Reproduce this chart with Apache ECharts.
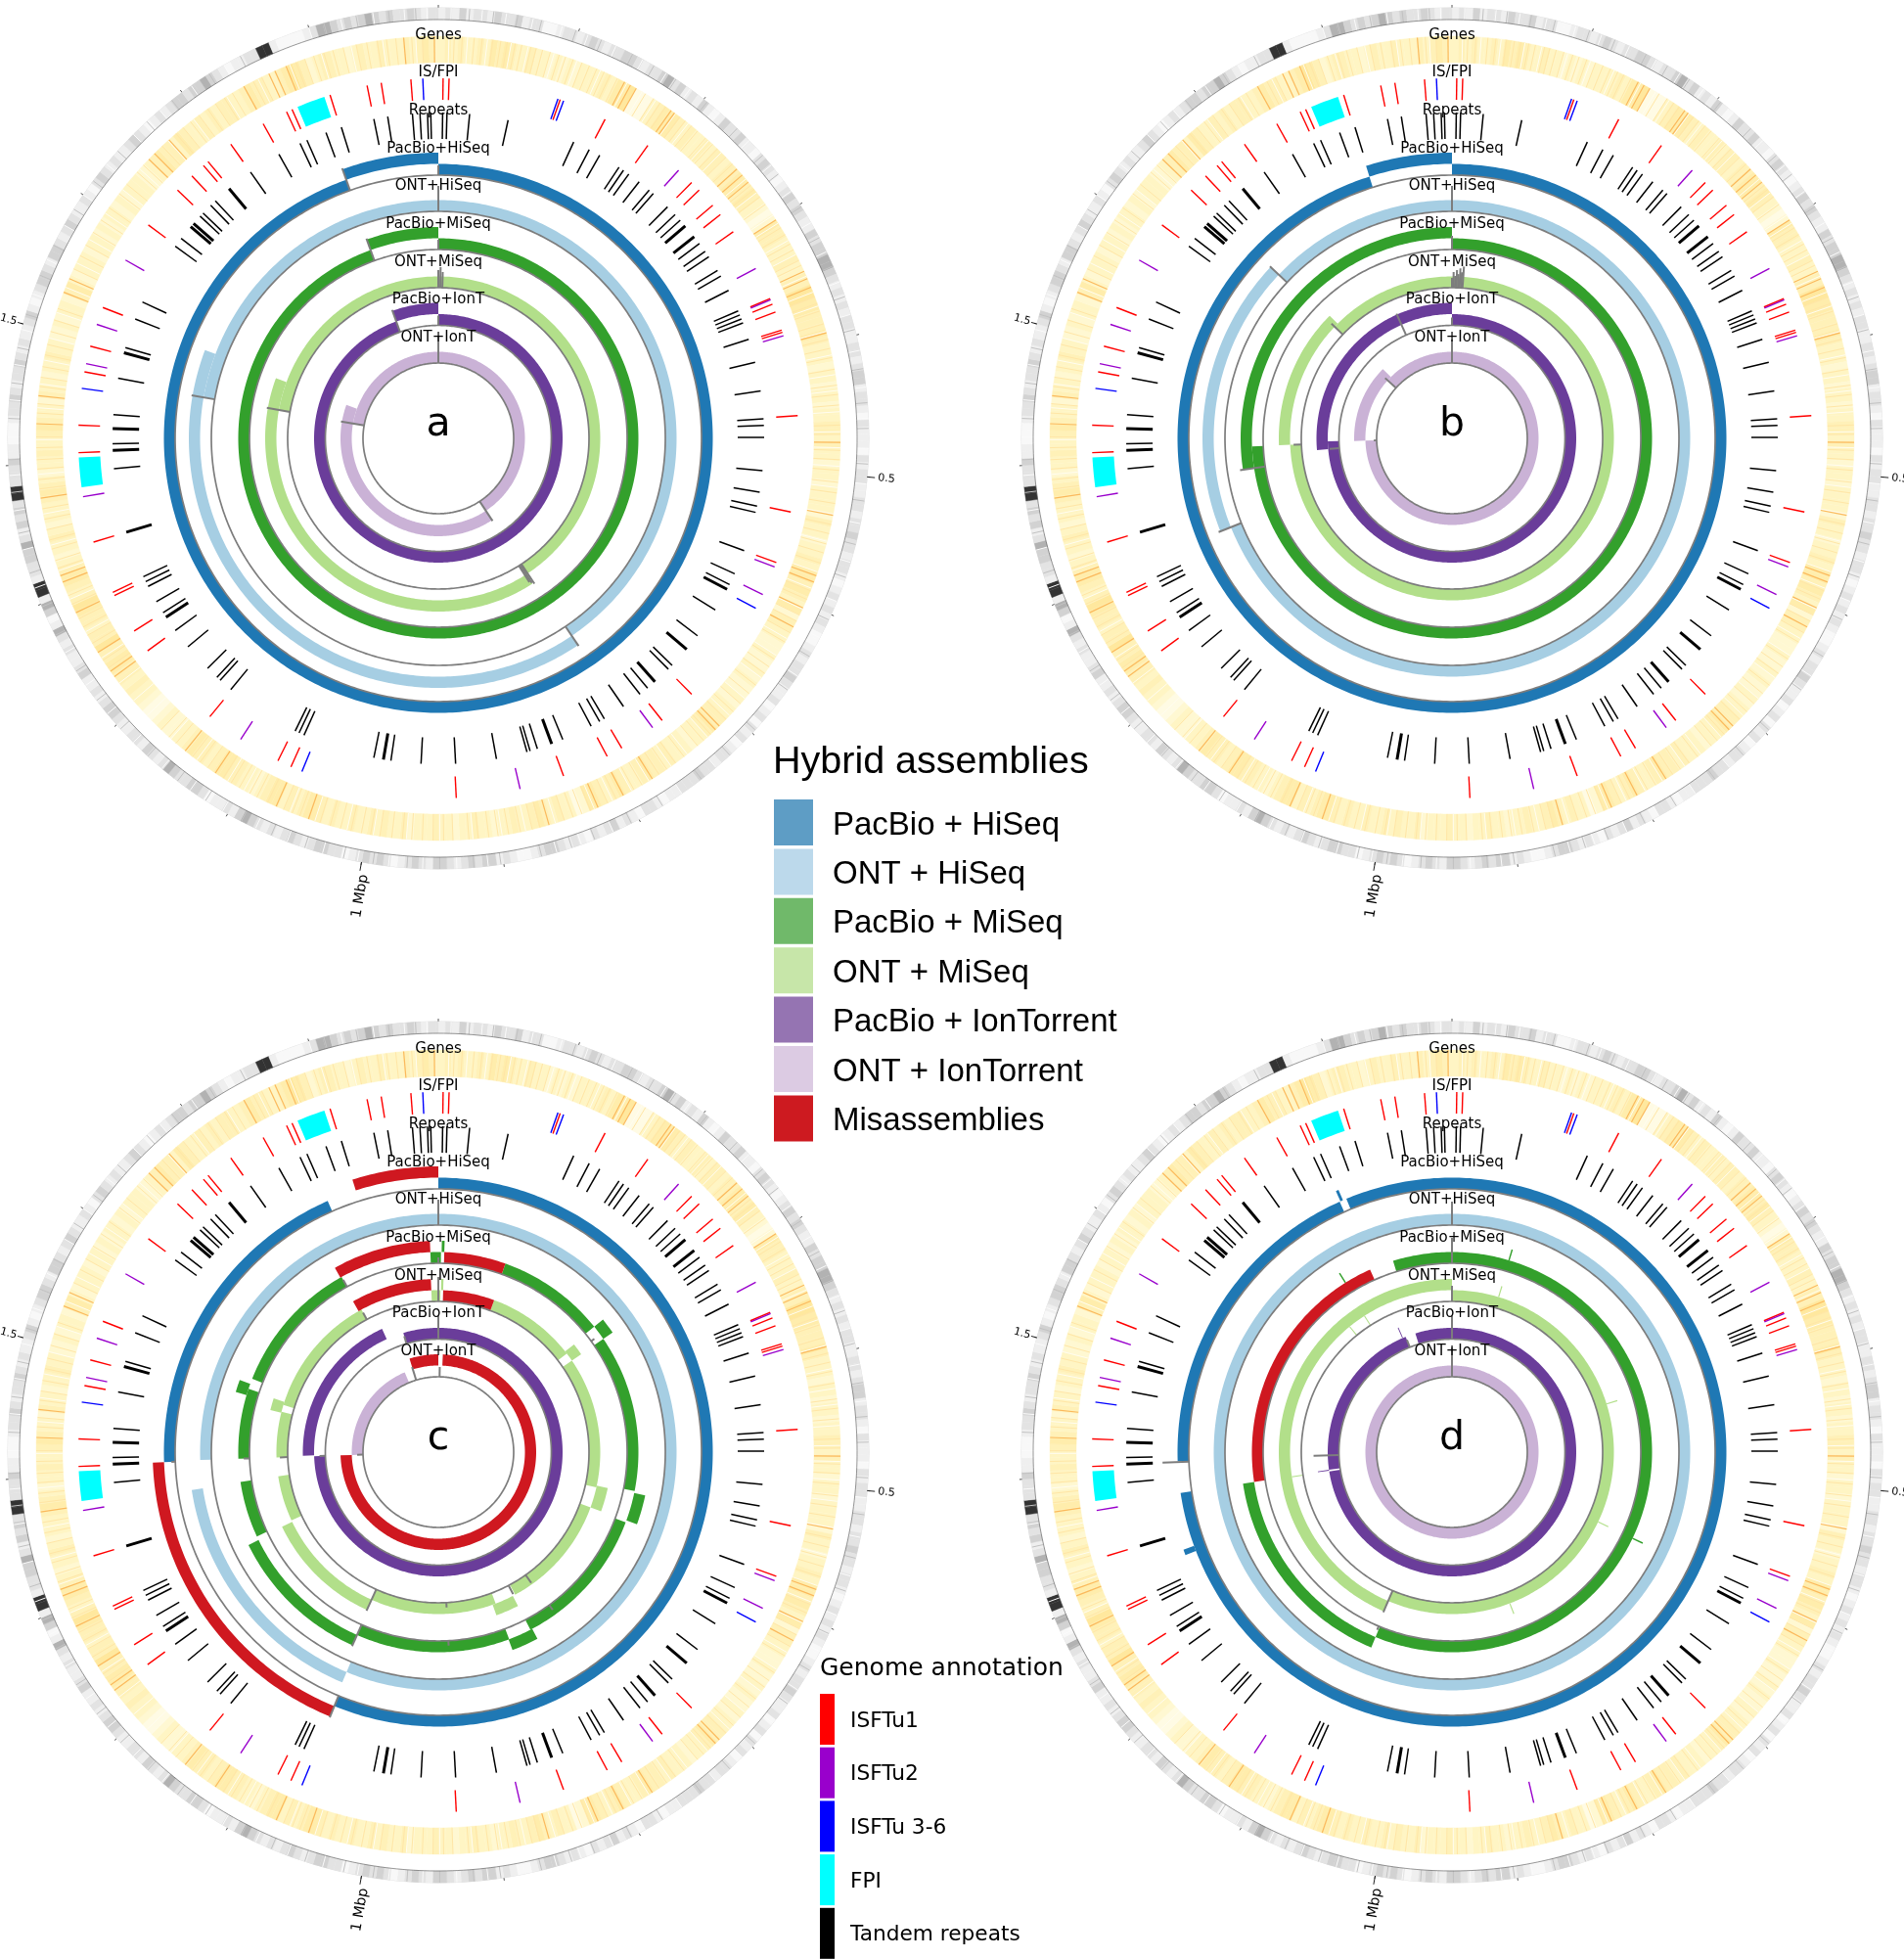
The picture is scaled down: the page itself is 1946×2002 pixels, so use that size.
<!DOCTYPE html>
<html><head><meta charset="utf-8">
<style>html,body{margin:0;padding:0;background:#fff}#c{width:1946px;height:2002px}</style>
<script src="https://cdn.jsdelivr.net/npm/echarts@6/dist/echarts.min.js"></script>
</head><body><div id="c"></div>
<script>
// ---- genome (kb) ----
const genomeKb = 1892;
const tickLabelPos = [500, 1000, 1500];
const tickLabelText = ['0.5', '1 Mbp', '1.5'];
const trackLabels = ['Genes','IS/FPI','Repeats','PacBio+HiSeq','ONT+HiSeq','PacBio+MiSeq','ONT+MiSeq','PacBio+IonT','ONT+IonT'];
const trackLabelRadius = [412,374,335,296,257.5,218.5,179.5,141.5,102.5];
const panelLetters = ['a','b','c','d'];

// ---- annotation tracks (kb) ----
const isftu1 = [4,9,104,145,187,235,244,261,271,289,353,358,365,381,383,454,535,579,711,744,785,799,839,931,1073,1085,1153,1229,1249,1283,1286,1331,1407,1430,1475,1497,1531,1610,1648,1665,1678,1683,1707,1739,1761,1766,1800,1832,1844,1869];
const isftu2 = [220,325,354,386,583,608,754,877,1121,1370,1482,1516,1575];
const isftu36 = [102,107,621,1063,1461,1879];
const fpi = [[1771,1795],[1378,1403]];
const repeatsThin = [4,8,29,65,129,145,156,177,182,188,200,212,217,235,245,252,280,289,295,310,316,331,352,356,360,364,380,402,429,455,461,472,503,523,536,542,579,602,613,640,669,705,710,736,745,764,785,790,799,828,853,860,863,892,930,962,990,1006,1074,1079,1083,1154,1167,1171,1183,1210,1229,1249,1261,1277,1282,1287,1391,1414,1441,1475,1504,1532,1549,1609,1618,1645,1649,1659,1665,1707,1738,1760,1767,1786,1801,1832,1845,1868,1875,1882,1885];
const repeatsThick = [259,272,618,685,727,839,997,1244,1331,1408,1428,1499,1632,1636,1682];

// ---- gene density, one value per 5 kb ----
const geneDensity = [
2,3,2,3,2,2,3,2,4,3,4,3,2,2,3,2,2,1,2,
1,2,1,2,2,2,2,3,2,4,4,5,0,0,0,2,3,4,4,
4,3,2,3,2,2,3,2,3,3,2,3,3,4,4,3,4,3,2,
1,0,1,4,3,3,2,2,2,3,2,2,3,3,5,5,4,4,3,
3,3,4,3,2,2,2,1,2,2,1,2,2,1,2,2,3,3,2,
3,2,2,1,2,2,1,2,2,2,2,1,3,2,2,1,2,2,3,
2,4,4,3,4,3,2,4,1,3,3,2,2,1,1,2,1,1,2,
1,2,1,1,2,1,2,2,3,3,4,3,2,2,1,2,2,2,3,
2,3,3,4,3,2,2,3,4,3,2,3,4,4,1,0,2,2,3,
2,3,4,3,2,2,3,2,2,1,2,2,3,2,2,1,2,2,3,
2,2,2,1,3,2,2,3,2,3,2,2,3,2,2,3,2,3,4,
4,3,2,3,2,4,4,3,2,1,2,2,3,3,4,4,3,2,3,
3,4,3,2,2,1,1,2,1,0,0,1,2,2,3,2,3,3,4,
4,3,3,5,3,3,2,3,3,4,5,3,2,3,4,4,3,2,1,
2,2,3,2,1,2,2,2,3,4,3,2,1,2,2,3,2,2,3,
4,3,2,2,1,3,2,2,1,2,2,3,2,2,1,1,2,1,2,
2,1,3,4,2,1,2,2,2,1,2,2,1,2,1,2,2,1,2,
1,2,2,2,1,1,2,3,4,3,3,2,4,3,2,2,3,2,3,
2,3,3,2,2,3,4,3,3,2,2,3,4,5,4,3,1,2,3,
3,2,2,1,2,3,2,2,3,2,2,2,3,2,3,4,3,2];
const geneDark = [145,150,155,186,189,252,258,265,300,344,350,357,393,476,531,578,583,604,620,713,717,777,802,823,862,1045,1071,1123,1151,1228,1233,1250,1284,1309,1314,1374,1430,1451,1531,1542,1650,1656,1671,1740,1761,1766,1775,1866,1889];
const geneLight = [12,18,27,33,41,47,52,58,63,70,74,79,85,92,97,103,110,116,122,128,133,139,163,170,176,181,194,199,205,211,219,226,231,240,247,268,272,279,286,307,313,321,326,335,339,365,370,376,386,398,405,412,421,433,440,448,463,470,482,489,497,506,514,522,538,545,553,560,568,590,597,610,615,625,633,648,655,661,672,680,690,698,706,722,729,735,748,756,764,771,786,793,808,815,829,836,843,850,869,875,884,893,901,908,916,923,935,942,950,958,966,973,981,990,997,1004,1012,1020,1028,1036,1052,1058,1065,1078,1087,1093,1102,1109,1116,1130,1137,1144,1160,1167,1175,1236,1243,1258,1265,1272,1279,1291,1298,1320,1326,1335,1342,1350,1358,1366,1381,1388,1396,1403,1412,1420,1438,1445,1458,1465,1473,1482,1490,1500,1509,1518,1550,1561,1570,1581,1592,1603,1616,1625,1637,1644,1664,1678,1685,1692,1700,1708,1715,1723,1730,1748,1755,1783,1790,1797,1805,1812,1820,1830,1838,1846,1853,1860,1872,1880];
const genePale = [8,22,37,55,68,88,106,125,147,160,172,190,202,222,235,262,275,296,303,318,330,348,361,372,392,410,425,437,453,468,480,494,510,530,551,575,588,605,630,645,665,685,702,725,745,760,780,795,811,826,857,880,898,920,945,970,995,1015,1040,1060,1098,1112,1140,1165,1190,1205,1222,1245,1268,1295,1318,1338,1362,1392,1418,1442,1460,1478,1495,1515,1535,1555,1575,1598,1620,1640,1670,1695,1725,1752,1778,1803,1826,1850,1875];

// ---- outer ring grey level, one value per 5 kb ----
const outerLevels = [
1,2,1,3,1,2,2,1,3,2,2,3,1,2,2,0,0,1,2,
2,1,2,3,2,1,2,2,3,3,2,1,2,2,3,4,2,3,1,
2,1,3,1,0,1,3,2,2,3,1,1,0,2,3,2,1,0,1,
2,3,2,3,2,1,1,3,2,3,3,4,4,3,2,1,2,1,2,
1,2,2,1,1,2,2,1,2,3,3,1,2,2,1,0,2,1,1,
1,0,2,1,2,2,1,1,2,2,1,2,2,3,2,2,1,2,2,
1,0,1,2,1,2,1,2,1,0,0,1,2,1,2,2,3,2,1,
1,2,0,1,2,0,2,1,2,0,1,2,2,1,2,2,3,2,2,
2,1,1,0,1,2,2,0,1,2,1,3,2,1,2,0,1,2,1,
2,3,3,2,1,0,0,1,2,1,3,3,2,3,2,1,2,3,3,
1,2,3,2,1,0,2,3,2,3,2,1,0,2,2,3,3,2,1,
2,3,2,1,2,1,2,3,4,3,1,2,1,1,0,2,3,3,2,
2,3,4,2,1,2,3,1,2,2,1,1,2,3,3,2,1,2,1,
1,3,2,1,1,2,1,2,4,1,0,3,4,1,5,5,1,2,2,
3,3,4,2,1,3,2,3,2,5,5,2,2,2,3,1,1,0,0,
0,1,2,2,3,2,1,2,2,3,2,1,2,1,1,2,3,1,0,
1,2,3,3,2,1,3,3,2,1,2,3,2,1,1,2,1,0,2,
3,2,1,2,1,1,2,3,2,1,0,1,2,1,2,3,3,2,3,
3,4,3,2,1,0,1,1,2,2,5,5,1,0,0,0,0,1,2,
4,4,3,2,3,2,3,4,3,2,3,2,2,3,2,1,2,2];
const outerDark = [22,39,56,73,98,117,141,158,176,203,231,257,274,302,327,349,372,396,424,448,466,491,517,548,572,604,633,661,697,722,748,781,806,834,851,873,902,921,945,968,992,1013,1041,1066,1089,1118,1142,1169,1196,1222,1247,1276,1298,1323,1352,1381,1404,1433,1458,1483,1507,1536,1559,1588,1612,1639,1668,1691,1723,1748,1811,1834,1857,1876];
const outerPale = [9,31,48,67,88,107,128,149,168,188,214,243,266,289,315,338,361,385,411,437,459,480,505,533,561,590,618,649,678,710,735,765,795,820,844,862,889,911,933,957,981,1003,1028,1054,1078,1104,1131,1156,1183,1210,1235,1262,1287,1312,1340,1368,1393,1420,1446,1471,1496,1522,1548,1575,1600,1627,1655,1680,1708,1735,1800,1823,1846,1868,1884];

// ---- assemblies: [start kb, end kb, ring level] ----
const a1 = [[0,1789,0],[1789,1892,1]];
const a2 = [[0,767,0],[767,1528,1],[1471,1892,0]];
const a3 = [[0,1788,0],[1788,1892,1]];
const a4 = [[0,773,0],[773,1526,1],[1472,1892,0]];
const a5 = [[0,1788,0],[1788,1892,1]];
const a6 = [[0,771,0],[771,1524,1],[1471,1892,0]];
const b1 = [[0,1800,0],[1800,1892,1]];
const b2 = [[0,1304,0],[1304,1647,1],[1647,1892,0]];
const b3 = [[0,1407,0],[1374,1892,1]];
const b4 = [[0,1407,0],[1407,1656,1],[1648,1892,0]];
const b5 = [[0,1412,0],[1393,1892,1]];
const b6 = [[0,1411,0],[1411,1656,1],[1640,1892,0]];
const c1 = [[0,1063,0],[1408,1767,0]];
const c2 = [[0,1065,0],[1065,1373,1],[1409,1892,0]];
const c3 = [[0,4,0],[103,269,0],[292,532,0],[581,802,0],[837,1072,0],[1288,1374,0],[1409,1516,0],[1532,1740,0],[1880,1892,0],[5,9,1],[269,292,1],[535,578,1],[799,838,1],[1072,1282,1],[1506,1524,1]];
const c4 = [[0,4,0],[106,276,0],[292,539,0],[578,797,0],[837,1074,0],[1288,1374,0],[1409,1495,0],[1508,1743,0],[1879,1892,0],[5,9,1],[271,292,1],[536,578,1],[802,843,1],[1074,1285,1],[1493,1514,1]];
const c5 = [[0,1409,0],[1411,1763,1],[1806,1892,0]];
const c6 = [[1409,1772,0]];
const c1red = [[1063,1408,1],[1800,1892,1]];
const c3red = [[9,103,0],[1738,1880,1]];
const c4red = [[9,106,0],[1737,1879,1]];
const c6red = [[14,1409,1],[1802,1892,1]];
const d1 = [[0,1374,0],[1409,1765,0],[1773,1892,0],[1308,1314,1],[1766,1769,1]];
const d2 = [[0,1892,0]];
const d3 = [[0,1064,0],[1064,1374,1],[1802,1892,0],[86,88,1],[606,608,1],[1722,1724,1]];
const d4 = [[0,1068,0],[1068,1892,1],[87,89,1],[381,383,1],[606,608,1],[835,837,1],[1372,1374,0],[1685,1687,0],[1719,1721,0]];
const d5 = [[0,1372,0],[1376,1777,0],[1802,1892,0],[1374,1376,1],[1768,1770,1]];
const d6 = [[0,1892,0]];
const d3red = [[1374,1765,0]];

// ---- grey coverage spikes: [kb, height] ----
const a1s=[[0,10],[1789,24]], a2s=[[0,26],[767,24],[1471,24]], a3s=[[0,10],[1788,24]], a4s=[[0,18],[4,21],[8,16],[770,24],[773,22],[776,20],[1472,24]], a5s=[[0,10],[1788,24]], a6s=[[0,27],[771,24],[1471,24]];
const b1s=[], b2s=[[0,26],[1304,25],[1647,24]], b3s=[[0,14],[1374,26]], b4s=[[0,10],[3,16],[6,12],[9,18],[12,14],[15,20],[18,16],[21,22],[1407,8],[1648,16]], b5s=[[0,8],[1393,10],[1766,24]], b6s=[[0,24],[1411,3],[1640,15]];
const c1s=[[1063,24],[1408,4]], c2s=[[0,26]], c3s=[[0,6],[284,4],[757,6],[930,5],[1072,24],[1409,6],[1740,8]], c4s=[[0,25],[760,10],[800,10],[930,5],[1074,24],[1409,8],[1743,8]], c5s=[[0,24],[1409,6],[1806,8]], c6s=[[5,10],[1409,6],[1802,14]];
const d1s=[[1408,27]], d2s=[[0,24]], d3s=[[0,26],[1066,4]], d4s=[[0,16],[1068,24]], d5s=[[0,24],[1411,26],[1777,8]], d6s=[[0,30]];

const tracksByPanel = [[a1,a2,a3,a4,a5,a6],[b1,b2,b3,b4,b5,b6],[c1,c2,c3,c4,c5,c6],[d1,d2,d3,d4,d5,d6]];
const spikesByPanel = [[a1s,a2s,a3s,a4s,a5s,a6s],[b1s,b2s,b3s,b4s,b5s,b6s],[c1s,c2s,c3s,c4s,c5s,c6s],[d1s,d2s,d3s,d4s,d5s,d6s]];
const redByPanel = [[],[],[[0,c1red],[2,c3red],[3,c4red],[5,c6red]],[[2,d3red]]];

// ---- legends ----
const hybridNames = ['PacBio + HiSeq','ONT + HiSeq','PacBio + MiSeq','ONT + MiSeq','PacBio + IonTorrent','ONT + IonTorrent','Misassemblies'];
const annotationNames = ['ISFTu1','ISFTu2','ISFTu 3-6','FPI','Tandem repeats'];

// ---- styles and geometry ----
const centers = [[448,448],[1484,448],[448,1484],[1484,1484]];
const trackColors = ['#1f78b4','#a6cee3','#33a02c','#b2df8a','#6a3d9a','#cab2d6'];
const redColor = '#cf1820';
const hybridSwatch = ['#5e9dc5','#bcd9eb','#70b96a','#c7e6a9','#9574b2','#dccbe3','#cd1a20'];
const annotationColors = ['#ff0000','#9900cc','#0000ff','#00ffff','#000000'];
const trackBase = [269,232,193,154,115.5,77];
const geneColors = ['#fffbe4','#fff8d2','#fff5c4','#fff1b8','#ffedac','#ffe89e'];
const outerColors = ['#f8f8f8','#efefef','#e3e3e3','#d2d2d2','#b2b2b2','#333333'];
const GENE=[384,411], OUT=[428,440], ISR=[346,368], REP=[306,333];
const sans = 'DejaVu Sans';
const tickEnd = [448,449,446], tickText = [451,453,447], tickFont = [11,14.5,11], tickShiftX = [0,5,0];

function arcPoints(api, r, s, e){
  const pts=[], n=Math.max(1,Math.ceil(Math.abs(e-s)/4));
  for(let i=0;i<=n;i++){ const c=api.coord([r,s+(e-s)*i/n]); pts.push([c[0],c[1]]); }
  return pts;
}
function band(api,s,e,r0,r1,fill,strokeW){
  return {type:'polygon',shape:{points:arcPoints(api,r1,s,e).concat(arcPoints(api,r0,e,s))},
    style:{fill:fill,stroke:strokeW?fill:null,lineWidth:strokeW||0}};
}
function radial(api,pos,r0,r1,color,w){
  const p=api.coord([r0,pos]), q=api.coord([r1,pos]);
  return {type:'line',shape:{x1:p[0],y1:p[1],x2:q[0],y2:q[1]},style:{stroke:color,lineWidth:w,fill:null}};
}
const segRender = (base,color)=>(params,api)=>{
  const lvl=api.value(2);
  const r0=base+(lvl?11.5:0), r1=base+(lvl?23:11.5);
  return band(api,api.value(0),api.value(1),r0,r1,color);
};
const markRender=(rng,color,w)=>(params,api)=>radial(api,api.value(0),rng[0],rng[1],color,w);
const binRender=(rng,colors,levels)=>(params,api)=>{
  const i=params.dataIndex, s=i*5, e=Math.min(genomeKb,s+5);
  return band(api,s,e,rng[0],rng[1],colors[levels[i]],0.4);
};

const polar=[], angleAxis=[], radiusAxis=[], series=[];
function add(p,name,data,renderItem,enc,color){
  series.push({type:'custom',name:name,coordinateSystem:'polar',polarIndex:p,data:data,
    encode:enc||{angle:0,radius:1},renderItem:renderItem,silent:true,animation:false,
    itemStyle:{color:color||'#000'}});
}
const pos2=(arr)=>arr.map(v=>[v,0]);

centers.forEach((c,p)=>{
  polar.push({center:c,radius:[0,440]});
  angleAxis.push({polarIndex:p,type:'value',min:0,max:genomeKb,interval:100,startAngle:90,clockwise:true,
    axisLine:{show:true,lineStyle:{color:'#aaa',width:0.4}},axisTick:{show:true,length:3,lineStyle:{color:'#555',width:1}},
    axisLabel:{show:false},splitLine:{show:false},minorTick:{show:false}});
  radiusAxis.push({polarIndex:p,type:'value',min:0,max:440,show:false,splitLine:{show:false}});

  // outer grey ring
  add(p,'Genome',outerLevels.map((v,i)=>[i*5,v]),binRender(OUT,outerColors,outerLevels));
  add(p,'Genome dark',pos2(outerDark),markRender(OUT,'#c2c2c2',1));
  add(p,'Genome pale',pos2(outerPale),markRender(OUT,'#fbfbfb',1));
  add(p,'Genome edge',[[0,0]],(pm,api)=>({type:'polyline',shape:{points:arcPoints(api,OUT[0],0,genomeKb)},style:{stroke:'#555',lineWidth:0.6,fill:null}}));
  // gene heat ring
  add(p,'Genes',geneDensity.map((v,i)=>[i*5,v]),binRender(GENE,geneColors,geneDensity));
  add(p,'Genes light',pos2(geneLight),markRender(GENE,'#ffe6a6',1));
  add(p,'Genes pale',pos2(genePale),markRender(GENE,'#fffdf0',1));
  add(p,'Genes dark',pos2(geneDark),markRender(GENE,'#fbb95c',1.2));
  // IS / FPI
  add(p,annotationNames[3],fpi,(pm,api)=>band(api,api.value(0),api.value(1),ISR[0],ISR[1],annotationColors[3]),{angle:0,radius:1},annotationColors[3]);
  add(p,annotationNames[0],pos2(isftu1),markRender(ISR,annotationColors[0],1.4),null,annotationColors[0]);
  add(p,annotationNames[1],pos2(isftu2),markRender(ISR,annotationColors[1],1.4),null,annotationColors[1]);
  add(p,annotationNames[2],pos2(isftu36),markRender(ISR,annotationColors[2],1.4),null,annotationColors[2]);
  // repeats
  add(p,annotationNames[4],pos2(repeatsThin),markRender(REP,'#000',1.5),null,'#000');
  add(p,annotationNames[4],pos2(repeatsThick),markRender(REP,'#000',3),null,'#000');
  // assemblies
  tracksByPanel[p].forEach((segs,t)=>{
    add(p,hybridNames[t],segs,segRender(trackBase[t],trackColors[t]),{angle:0,radius:2},trackColors[t]);
  });
  redByPanel[p].forEach(([t,segs])=>{
    add(p,hybridNames[6],segs,segRender(trackBase[t],redColor),{angle:0,radius:2},redColor);
  });
  // grey baselines and spikes
  add(p,'Baseline',trackBase.map(r=>[0,r]),(pm,api)=>({type:'polyline',shape:{points:arcPoints(api,api.value(1),0,genomeKb)},style:{stroke:'#7d7d7d',lineWidth:1.7,fill:null}}));
  spikesByPanel[p].forEach((sp,t)=>{
    add(p,'Spikes',sp,(pm,api)=>radial(api,api.value(0),trackBase[t],trackBase[t]+api.value(1),'#7d7d7d',2),{angle:0,radius:1});
  });
  // text
  add(p,'Track labels',trackLabelRadius.map(r=>[0,r]),(pm,api)=>{
    const q=api.coord([api.value(1),api.value(0)]);
    return {type:'text',x:q[0],y:q[1],style:{text:trackLabels[pm.dataIndex],fontFamily:sans,fontSize:15,fill:'#000',align:'center',verticalAlign:'middle'}};
  });
  add(p,'Axis labels',tickLabelPos.map(v=>[v,440]),(pm,api)=>{
    const i=pm.dataIndex, v=api.value(0), o=api.coord([440,v]), q=api.coord([tickEnd[i],v]), q2=api.coord([tickText[i],v]);
    const deg=v/genomeKb*360, right=deg<180;
    const rot=(right?(90-deg):(270-deg))*Math.PI/180;
    return {type:'group',children:[
      {type:'line',shape:{x1:o[0],y1:o[1],x2:q[0],y2:q[1]},style:{stroke:'#222',lineWidth:1,fill:null}},
      {type:'text',x:q2[0]+tickShiftX[i],y:q2[1],rotation:rot,style:{text:tickLabelText[i],fontFamily:sans,fontSize:tickFont[i],fill:'#000',align:right?'left':'right',verticalAlign:'middle'}}
    ]};
  });
  add(p,'Letter',[[0,0]],(pm,api)=>{
    const q=api.coord([0,0]);
    return {type:'text',x:q[0],y:q[1]-14,style:{text:panelLetters[p],fontFamily:sans,fontSize:41,fill:'#000',align:'center',verticalAlign:'middle'}};
  });
});

const option={
  animation:false,backgroundColor:'#fff',
  title:[
    {text:'Hybrid assemblies',left:790,top:759,padding:0,textStyle:{fontFamily:'Liberation Sans',fontSize:39.5,fontWeight:'normal',color:'#000'}},
    {text:'Genome annotation',left:838,top:1693,padding:0,textStyle:{fontFamily:sans,fontSize:25,fontWeight:'normal',color:'#000'}}
  ],
  legend:[
    {orient:'vertical',left:791,top:817,padding:0,itemWidth:40,itemHeight:47,itemGap:3.4,selectedMode:false,
     formatter:n=>'{t|'+n+'}',
     textStyle:{rich:{t:{fontFamily:'Liberation Sans',fontSize:33,color:'#000',padding:[6,0,0,15]}}},
     data:hybridNames.map((n,i)=>({name:n,icon:'rect',itemStyle:{color:hybridSwatch[i]}}))},
    {orient:'vertical',left:838,top:1731,padding:0,itemWidth:15,itemHeight:52,itemGap:2.7,selectedMode:false,
     formatter:n=>'{t|'+n+'}',
     textStyle:{rich:{t:{fontFamily:sans,fontSize:21.7,color:'#000',padding:[4,0,0,11]}}},
     data:annotationNames.map((n,i)=>({name:n,icon:'rect',itemStyle:{color:annotationColors[i]}}))}
  ],
  polar:polar,angleAxis:angleAxis,radiusAxis:radiusAxis,series:series
};
echarts.init(document.getElementById('c'),null,{renderer:'canvas',width:1946,height:2002}).setOption(option);
</script>
</body></html>
